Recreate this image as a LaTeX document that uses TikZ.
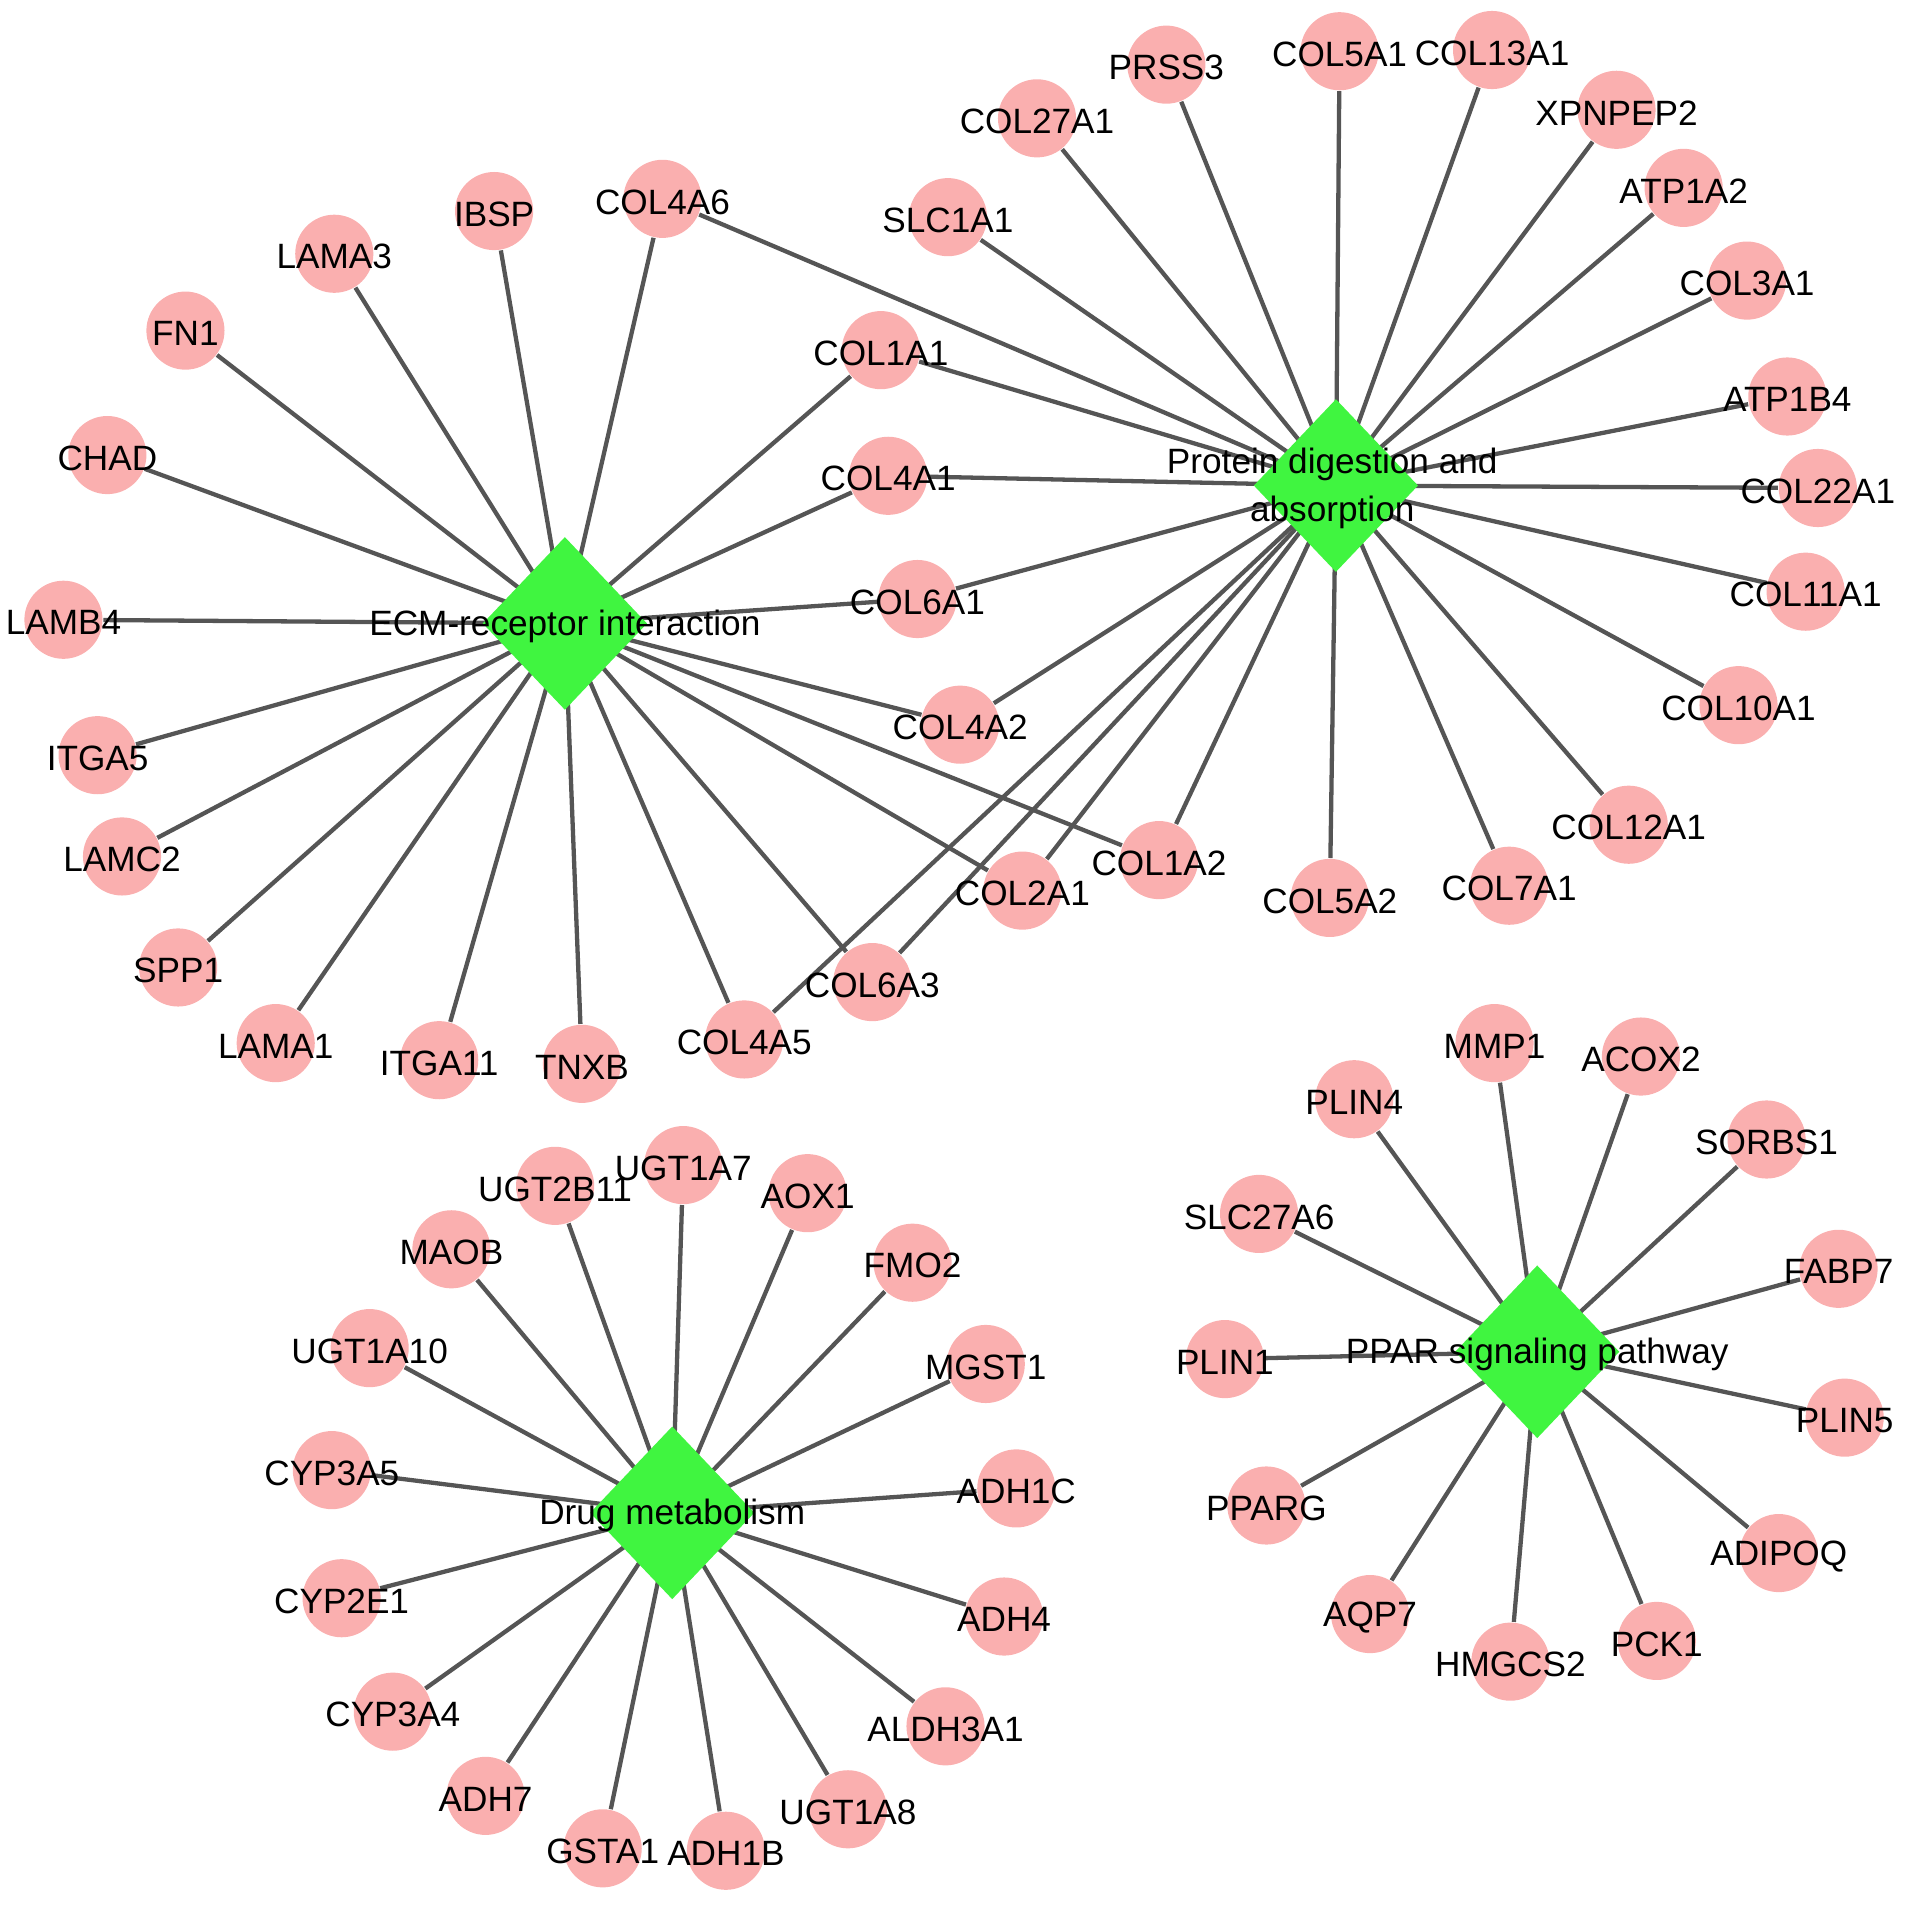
\documentclass[tikz,border=0pt]{standalone}
\usepackage{fontspec}
\setmainfont{Liberation Sans}
\usetikzlibrary{shapes.geometric,backgrounds}
\definecolor{pinkn}{RGB}{250,175,175}
\definecolor{greenh}{RGB}{64,245,64}
\definecolor{edgec}{RGB}{85,85,85}
\newcommand\lf[3]{\node[leaf] (#1) at (#2,#3) {}; \node[lbl] at (#1) {#1};}
\begin{document}
\begin{tikzpicture}[x=0.01cm,y=-0.01cm,
  leaf/.style={circle,fill=pinkn,minimum size=0.64cm,inner sep=0pt},
  lbl/.style={font=\fontsize{8.2}{11.2}\selectfont,inner sep=0pt,text=black,yshift=-0.025cm},
  hub/.style={diamond,fill=greenh,minimum width=1.35cm,minimum height=1.42cm,inner sep=0pt},
  edge/.style={draw=edgec,line width=1pt}]
\useasboundingbox (0,0) rectangle (1568,1561);
% hubs
\node[hub] (ECM) at (463,511) {};
\node[hub] (PDA) at (1095,398) {};
\node[hub] (DRUG) at (551,1240) {};
\node[hub] (PPAR) at (1260,1108) {};
% ECM leaves
\lf{LAMB4}{52}{508}
\lf{CHAD}{88}{373}
\lf{FN1}{152}{271}
\lf{LAMA3}{274}{208}
\lf{IBSP}{405}{173}
\lf{COL4A6}{543}{163}
\lf{COL1A1}{722}{287}
\lf{COL4A1}{728}{390}
\lf{COL6A1}{752}{491}
\lf{COL4A2}{787}{594}
\lf{COL1A2}{950}{705}
\lf{COL2A1}{838}{730}
\lf{COL6A3}{715}{805}
\lf{COL4A5}{610}{852}
\lf{TNXB}{477}{872}
\lf{ITGA11}{360}{869}
\lf{LAMA1}{226}{855}
\lf{SPP1}{146}{793}
\lf{LAMC2}{100}{702}
\lf{ITGA5}{80}{619}
% Protein leaves
\lf{SLC1A1}{777}{178}
\lf{COL27A1}{850}{97}
\lf{PRSS3}{956}{53}
\lf{COL5A1}{1098}{42}
\lf{COL13A1}{1223}{41}
\lf{XPNPEP2}{1325}{90}
\lf{ATP1A2}{1380}{154}
\lf{COL3A1}{1432}{230}
\lf{ATP1B4}{1465}{325}
\lf{COL22A1}{1490}{400}
\lf{COL11A1}{1480}{485}
\lf{COL10A1}{1425}{578}
\lf{COL12A1}{1335}{676}
\lf{COL7A1}{1237}{726}
\lf{COL5A2}{1090}{736}
% Drug leaves
\lf{UGT2B11}{455}{972}
\lf{UGT1A7}{560}{955}
\lf{AOX1}{662}{978}
\lf{FMO2}{748}{1035}
\lf{MGST1}{808}{1118}
\lf{ADH1C}{833}{1220}
\lf{ADH4}{823}{1325}
\lf{ALDH3A1}{775}{1415}
\lf{UGT1A8}{695}{1483}
\lf{ADH1B}{595}{1517}
\lf{GSTA1}{494}{1515}
\lf{ADH7}{398}{1472}
\lf{CYP3A4}{322}{1403}
\lf{CYP2E1}{280}{1310}
\lf{CYP3A5}{272}{1205}
\lf{UGT1A10}{303}{1105}
\lf{MAOB}{370}{1024}
% PPAR leaves
\lf{MMP1}{1225}{855}
\lf{ACOX2}{1345}{866}
\lf{PLIN4}{1110}{901}
\lf{SORBS1}{1448}{934}
\lf{SLC27A6}{1032}{995}
\lf{FABP7}{1507}{1040}
\lf{PLIN1}{1004}{1114}
\lf{PLIN5}{1512}{1162}
\lf{PPARG}{1038}{1234}
\lf{ADIPOQ}{1458}{1273}
\lf{AQP7}{1123}{1323}
\lf{HMGCS2}{1238}{1362}
\lf{PCK1}{1358}{1345}
% hub labels
\node[lbl] at (ECM) {ECM-receptor interaction};
\node[lbl,align=center] at (1092,398) {Protein digestion and\\absorption};
\node[lbl] at (DRUG) {Drug metabolism};
\node[lbl] at (PPAR) {PPAR signaling pathway};
% edges
\begin{scope}[on background layer]
\foreach \n in {LAMB4,CHAD,FN1,LAMA3,IBSP,COL4A6,COL1A1,COL4A1,COL6A1,COL4A2,COL1A2,COL2A1,COL6A3,COL4A5,TNXB,ITGA11,LAMA1,SPP1,LAMC2,ITGA5}
  \draw[edge] (ECM.center) -- (\n);
\foreach \n in {COL4A6,COL1A1,COL4A1,COL6A1,COL4A2,COL1A2,COL2A1,COL6A3,COL4A5,SLC1A1,COL27A1,PRSS3,COL5A1,COL13A1,XPNPEP2,ATP1A2,COL3A1,ATP1B4,COL22A1,COL11A1,COL10A1,COL12A1,COL7A1,COL5A2}
  \draw[edge] (PDA.center) -- (\n);
\foreach \n in {UGT2B11,UGT1A7,AOX1,FMO2,MGST1,ADH1C,ADH4,ALDH3A1,UGT1A8,ADH1B,GSTA1,ADH7,CYP3A4,CYP2E1,CYP3A5,UGT1A10,MAOB}
  \draw[edge] (DRUG.center) -- (\n);
\foreach \n in {MMP1,ACOX2,PLIN4,SORBS1,SLC27A6,FABP7,PLIN1,PLIN5,PPARG,ADIPOQ,AQP7,HMGCS2,PCK1}
  \draw[edge] (PPAR.center) -- (\n);
\end{scope}
\end{tikzpicture}
\end{document}
